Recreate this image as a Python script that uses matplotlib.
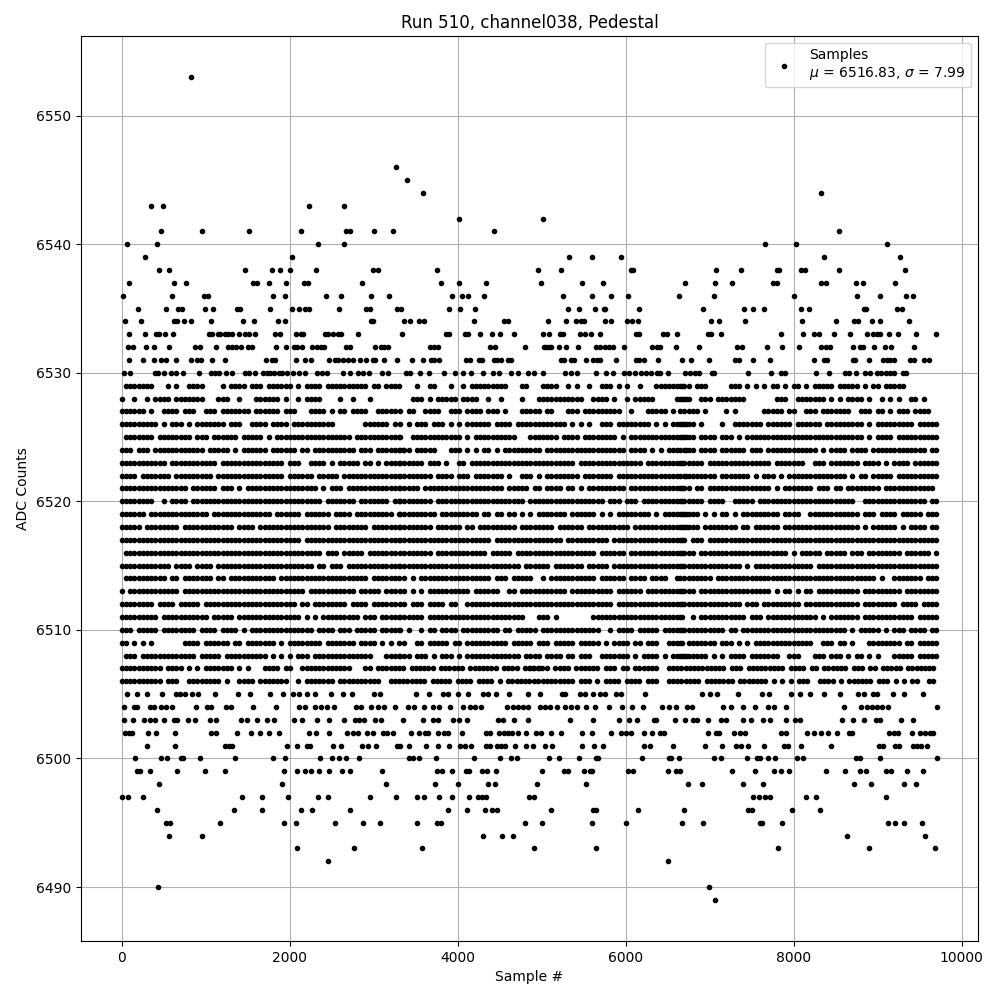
import numpy as np
import matplotlib
matplotlib.use("Agg")
import matplotlib.pyplot as plt

# sparse ADC levels: sample numbers
s6553 = [829]
s6546 = [3270]
s6545 = [3400]
s6544 = [3591, 8321]
s6543 = [353, 496, 2234, 2650]
s6542 = [4020, 5012]
s6541 = [472, 960, 1520, 2139, 2674, 2722, 3008, 3234, 4436, 8535]
s6540 = [67, 425, 2341, 2650, 7655, 8024, 9107]
s6539 = [282, 2031, 5321, 5595, 5940, 8357, 9262]
s6538 = [448, 567, 1472, 1794, 1889, 2008, 2317, 2996, 3055, 3758, 4952, 5226, 6060, 6087, 7071, 7369, 7805, 7821, 8083, 8131, 8535, 9321]
s6537 = [91, 627, 762, 1567, 1607, 1758, 1960, 2174, 2222, 2865, 3805, 4020, 4341, 4988, 5476, 5726, 6702, 7059, 7262, 7758, 7794, 8321, 8381, 8738, 8821, 9202]
s6536 = [20, 603, 984, 1032, 1805, 1948, 2436, 2615, 2972, 3186, 3936, 4055, 4127, 4317, 5250, 5595, 5821, 6024, 6631, 7048, 8000, 8750, 9024, 9333, 9417]
s6535 = [198, 532, 675, 722, 996, 1091, 1377, 1409, 1770, 2031, 2107, 2186, 2234, 2591, 2913, 2960, 3282, 3329, 3900, 4031, 4210, 5310, 5441, 5631, 5738, 5754, 6155, 6917, 7405, 7512, 7643, 8083, 8178, 8833, 8861, 9226, 9286]
s6534 = [44, 234, 623, 663, 746, 829, 1067, 1440, 1579, 1865, 1948, 2972, 2992, 3365, 3436, 3543, 3603, 4198, 4555, 4603, 5071, 5286, 5405, 5472, 5500, 5750, 5821, 6012, 6079, 6151, 7012, 7107, 7417, 8095, 8500, 8714, 8762, 8928, 9024, 9369]
s6533 = [91, 282, 413, 444, 520, 615, 1044, 1079, 1151, 1175, 1234, 1270, 1309, 1401, 1464, 1520, 1591, 1829, 1889, 2079, 2139, 2163, 2424, 2460, 2520, 2579, 2615, 2817, 3341, 3857, 3900, 4091, 4123, 4270, 4412, 4508, 4674, 5012, 5083, 5214, 5258, 5452, 5512, 5583, 5690, 6127, 6155, 6440, 6488, 6607, 6976, 7012, 7131, 7845, 8107, 8238, 8298, 8476, 8667, 8869, 8940, 8988, 9024, 9131, 9242, 9452, 9690]
s6532 = [79, 139, 294, 389, 567, 877, 936, 1127, 1270, 1317, 1365, 1424, 1508, 1555, 1841, 1960, 2056, 2091, 2151, 2270, 2329, 2377, 2413, 2674, 2722, 3020, 3091, 3127, 3175, 3675, 3722, 3770, 4389, 4448, 4805, 5024, 5048, 5083, 5107, 5202, 5286, 5429, 5643, 5690, 5750, 5798, 5845, 5976, 6310, 6369, 6405, 6595, 6869, 7321, 7381, 7678, 7857, 8059, 8321, 8381, 8429, 8702, 8786, 8821, 8952, 9083, 9155, 9429]
s6531 = [91, 258, 389, 472, 532, 651, 829, 901, 948, 1079, 1234, 1722, 1794, 1829, 2079, 2186, 2258, 2472, 2543, 2579, 2639, 2698, 2758, 2841, 2913, 2996, 3020, 3127, 3282, 3460, 3591, 3686, 3722, 3782, 4103, 4151, 4258, 4293, 4436, 4472, 4520, 4603, 4639, 5226, 5262, 5345, 5381, 5524, 5607, 5655, 5690, 5881, 6119, 6155, 6214, 6381, 6667, 6774, 6988, 7298, 7345, 7512, 7714, 8238, 8357, 8393, 8702, 8726, 8893, 9059, 9107, 9143, 9190, 9381, 9429, 9548, 9607]
s6530 = [32, 103, 401, 436, 508, 591, 651, 734, 925, 1067, 1115, 1163, 1246, 1317, 1472, 1520, 1591, 1686, 1730, 1770, 1810, 1870, 1905, 1972, 2044, 2115, 2186, 2321, 2389, 2448, 2639, 2722, 2817, 2877, 2948, 3103, 3175, 3389, 3436, 3555, 3663, 3841, 3972, 4067, 4163, 4305, 4424, 4496, 4639, 4722, 4841, 4905, 5012, 5274, 5345, 5417, 5643, 5762, 5845, 5976, 6036, 6107, 6179, 6246, 6298, 6369, 6405, 6500, 6702, 6762, 6821, 6869, 7024, 7052, 7452, 7726, 7845, 7893, 8262, 8417, 8607, 8655, 8738, 8845, 8905, 8988, 9036, 9095, 9143, 9190, 9298, 9341]
s6505 = [67, 187, 306, 484, 651, 698, 758, 833, 913, 1115, 1389, 1532, 1770, 1924, 2044, 2115, 2210, 2305, 2496, 2639, 2746, 3008, 3079, 3508, 3663, 3829, 3889, 4008, 4127, 4297, 4365, 4460, 4615, 4841, 4976, 5238, 5274, 5452, 5512, 5607, 5690, 5750, 5889, 5948, 6226, 6905, 7000, 7091, 7333, 7619, 7702, 7964, 8071, 8190, 8357, 8548, 8762, 8833, 8940, 8988, 9179, 9310, 9536]
s6504 = [32, 151, 187, 341, 389, 472, 532, 603, 889, 1020, 1067, 1246, 1305, 1567, 1841, 2115, 2186, 2305, 2377, 2448, 2532, 2794, 2853, 2972, 3055, 3127, 3258, 3413, 3484, 3603, 3710, 3782, 3912, 4067, 4151, 4210, 4282, 4591, 4663, 4722, 4782, 4841, 4976, 5036, 5095, 5179, 5274, 5345, 5417, 5524, 5631, 5798, 5952, 6071, 6202, 6429, 6512, 6595, 6726, 6786, 7155, 7250, 7393, 7536, 7690, 7762, 7905, 8595, 8798, 8869, 8928, 8988, 9044, 9119, 9700]
s6503 = [32, 139, 270, 337, 397, 508, 627, 663, 794, 877, 1056, 1127, 1424, 1496, 1615, 1734, 1817, 2056, 2151, 2329, 2472, 2651, 2782, 2829, 2889, 3020, 3091, 3353, 3591, 3710, 3770, 3940, 4020, 4107, 4484, 4543, 4674, 4841, 5333, 5607, 5917, 6036, 6131, 6333, 6357, 6583, 6702, 6798, 6845, 6976, 7131, 7190, 7393, 7496, 7631, 7714, 7905, 8012, 8071, 8571, 8702, 8833, 8976, 9024, 9274, 9417]
s6502 = [44, 91, 127, 317, 413, 639, 1067, 1127, 1377, 1544, 1651, 1758, 1877, 2234, 2317, 2472, 2686, 2758, 2817, 2924, 2996, 3115, 3163, 3234, 3448, 3543, 3615, 3651, 3770, 3841, 3889, 4055, 4341, 4389, 4496, 4555, 4603, 4651, 4722, 4817, 4929, 4988, 5107, 5226, 5476, 5595, 5821, 5940, 6000, 6060, 6214, 6310, 6405, 6452, 6976, 7071, 7107, 7286, 7357, 7417, 7845, 7905, 8155, 8238, 8321, 8405, 8512, 8655, 8690, 9131, 9190, 9238, 9405, 9500, 9560, 9619, 9655]
s6501 = [306, 639, 1234, 1282, 1317, 1972, 2091, 2210, 2246, 2520, 2615, 2865, 2936, 3032, 3282, 3317, 3424, 3627, 3770, 3900, 4031, 4091, 4163, 4341, 4389, 4472, 4520, 4567, 4686, 4817, 4893, 5036, 5119, 5476, 5619, 5726, 6214, 6286, 6560, 6940, 7143, 7310, 7369, 7452, 7643, 7881, 7928, 8083, 8440, 9012, 9059, 9202, 9250, 9417, 9464, 9512, 9583]
s6500 = [163, 472, 544, 710, 734, 936, 1353, 1805, 1948, 2365, 2508, 2591, 2674, 2829, 3424, 3472, 3543, 3746, 4198, 4508, 4639, 4710, 5087, 5206, 5440, 5643, 5667, 6190, 6512, 6536, 6631, 7048, 7139, 7440, 7560, 7595, 7690, 7774, 8036, 8107, 8738, 8786, 9024, 9707]
s6499 = [186, 222, 341, 663, 996, 1234, 1936, 2091, 2186, 2258, 2353, 2472, 2627, 2722, 3103, 3758, 3817, 3936, 4103, 4139, 4293, 4353, 4460, 5000, 5262, 5310, 5500, 5571, 5595, 6024, 6083, 6500, 6595, 6643, 7262, 7536, 7762, 7845, 7940, 8381, 8607, 8786, 8857, 9095, 9155, 9345, 9536]
s6498 = [448, 1913, 3151, 3734, 4008, 4365, 4448, 4940, 5532, 6738, 6905, 7393, 7631, 8714, 8917, 9310, 9452]
s6497 = [8, 79, 258, 1436, 1675, 1984, 2341, 2460, 2960, 3270, 3520, 3603, 3782, 3936, 4139, 4246, 4293, 4341, 4845, 4905, 7512, 7583, 7655, 7714, 8143, 8262, 9095]
s6496 = [425, 1341, 1675, 2139, 2270, 2722, 3889, 4115, 4329, 4412, 4472, 5107, 5607, 5643, 6147, 6690, 7452, 7500, 7976, 8310]
s6495 = [532, 579, 1175, 1936, 2079, 2543, 2877, 3079, 3520, 3758, 3805, 4805, 5000, 5595, 6000, 6667, 6917, 7595, 7619, 7857, 9119, 9202, 9310, 9524]
s6494 = [567, 960, 4305, 4532, 4663, 8631, 9559]
s6493 = [2091, 2770, 3579, 4905, 5643, 7809, 8893, 9679]
s6492 = [2460, 6500]
s6490 = [436, 6988]
s6489 = [7059]

sparse_levels = [6553, 6546, 6545, 6544, 6543, 6542, 6541, 6540, 6539, 6538, 6537, 6536, 6535, 6534, 6533, 6532, 6531, 6530,
                 6505, 6504, 6503, 6502, 6501, 6500, 6499, 6498, 6497, 6496, 6495, 6494, 6493, 6492, 6490, 6489]
sparse_samples = [s6553, s6546, s6545, s6544, s6543, s6542, s6541, s6540, s6539, s6538, s6537, s6536, s6535, s6534, s6533, s6532, s6531, s6530,
                  s6505, s6504, s6503, s6502, s6501, s6500, s6499, s6498, s6497, s6496, s6495, s6494, s6493, s6492, s6490, s6489]

# dense levels are too crowded to list dot by dot, so each one is read as
# 50-sample cells, # = a dot there. three strips, left to right
dense_levels = list(range(6529, 6507, -1))
strip_a = [
    ".#######...#.#..####....#.####.###.######.#.####.##########.##.####",
    "#..#..#.####.#######...###..#...######.#..#.####....#..#...#",
    "######.#..####.###..###.#######.######.###...####.#.##.####..#####",
    "#########.#.###.#.#######.###..####.####.##########.......######.#",
    ".#######.########.###.######.#####.#.##################.###########",
    "###.###.############.#####.#.######.######.##.##########.###.#######",
    "###########.###########.###############.###..####.#.#####.##.#.####",
    "####.#######.#########.################.######.#####.##############",
    "################.######.###.#.#################.#.###.#############",
    "########..#.####.###############################.#######.#######.##",
    "######.##############.##############.######.######.####.#########.#",
    "#####.########.############.####.#################.########.#######",
    "###########################################.#######################",
    ".###############################################.###.#####.#######.",
    "############.####.####.#######################.##.###.#############",
    ".##########.##.#######.##.###########.#####################.#######",
    "#.############.#############################.###########.#####.###",
    "########.####.#####.######################.##.########.####.######",
    "#########.###########.#####.###############.#.#.#########.###.#####",
    "###.#####.########.####.####.#.###############.####.###.#####.#####",
    "##.#.#.#.......####.######.##.#######.#.########.#######.####.#.#.#",
    ".###.#############.#####.##########.#.#.#.###.##############...####",
]
strip_b = [
    "....#..##...#..#.#########...##...####..#.#..#..###.#.#..#...#######",
    "...###.#.#####.####..#..#....#...###########..####.#..#.#####.....###",
    "#.##..####..###.####.###.#...#####.##...###.#########..#...#####.#",
    "#.#.###.###.#.#.######.####.############.#.#.#..###.########.#.#.####",
    "#..############.#.##########...#######.####.########.#.##############",
    "###.#####...###.#.#.##.#.#########.###################.####.#.#.###.#",
    "######.###.#..##.#########################.###############.#########",
    "########.####.###.#######.#..###.#.########.#######.###############.#",
    "#####.###################.#####.##.####.##.#.#########.#############",
    "########.#####################.##################.###.###.##########",
    "#########.#########.##.##.##.#.#.#######.######.#.#.########.#.######",
    "########.######.##.#########.########.######.##########.#############",
    "######################.################.##########.#################",
    "########.############.#####.###################.######.#############",
    "#############################.######.#######.#####.#################",
    ".#.#.#################.###.#####..#.###########.######.####.####..#.",
    "##.#.#.##########.######..##.###########.##########.######.#########",
    "##.###.####.##..###################################.################",
    "######.#######################...###.#........######################",
    "#.#..#.##.####.#########.##.#####.##############..#.####.#####.#####",
    ".#..##.#####.##.##########.#####.###.#####.#####.#.####.##.###..####",
    "###.###.#.###.#.#############.####.####.##.###..#######.#.####.#.####",
]
strip_c = [
    "###.###.....###.#.#.#.##.#.##.#.#####.#####.#.##.#####",
    "###..###.#######.......###..#######.#.#.####.#..#.#.#..##.#",
    "#####.#....#.#......#####.##..###.#######..###.##.#.###.####..###",
    "####.#....#..#######.######.######.#########.#.#########.######",
    "####.####.###.#.############################.#.####.##########",
    "####.####.######.###.############.#.####.####.#############.###",
    "######.###############.#######..###.#######.####.#.####.#######.##",
    "#########.#######.#.###.#.##############.#.##.#####.###########.##",
    "###.##.###############.#.#######.###.##.########.############",
    "######.####..#####.#######################..###############.###",
    "#####.#.#.##.#.#########.####..############.###.####.#####.#####",
    "#####.########.##.######.##################.#.######.#.####.###",
    "##.###.########################################################",
    "####.#####################.#.#####.#####.###.########.######.##",
    "###############.#.##############.##############################",
    "########.######################################.#..#######.####",
    "####.#################.#.##.#.##.##########.#########.#########",
    "###############.###.#########.#############.########.####.######",
    "#..#.###########.###.############.#.#######.############.#####",
    "###########.##.#########################.#.#####.#.###.####.###",
    "#.#######.###.#.#.##############..###.##.#...########.##.######",
    "#######.#.#.####.#######..###...###.###.#.##.#.#...#####.#######",
]
strip_starts = [0, 3314, 6648]

# 6507 and 6506 came from the lower crops, which split in two strips
low_levels = [6507, 6506]
low_left = [
    "##########.####.#.#.#######.#.#...####.##..############...##.#######.######.######.#######.####.#####",
    "##########.###..########.#..####.#######..#.#######.##########..#########.#####.####.####.#.######.#",
]
low_right = [
    "###.#.####.######.###.##.######..##############.###.#########.####.##.######.###.##.#####.########",
    ".#.########.###.#.####.####.###..########.#######.#######.#.#.#.###..####.#.######.###.#.#.##..######",
]
low_starts = [0, 4862]

CELL = 50


def cells_to_samples(cells, start):
    return [start + i * CELL for i, c in enumerate(cells) if c == "#"]


xs = []
ys = []
for level, samples in zip(sparse_levels, sparse_samples):
    xs += samples
    ys += [level] * len(samples)
for j, level in enumerate(dense_levels):
    for strip, start in zip([strip_a, strip_b, strip_c], strip_starts):
        row = cells_to_samples(strip[j], start)
        xs += row
        ys += [level] * len(row)
for j, level in enumerate(low_levels):
    for strip, start in zip([low_left, low_right], low_starts):
        row = cells_to_samples(strip[j], start)
        xs += row
        ys += [level] * len(row)

xs = np.array(xs)
ys = np.array(ys)
keep = xs <= 9707
xs = xs[keep]
ys = ys[keep]

fig, ax = plt.subplots(figsize=(10, 10))
ax.plot(xs, ys, "k.", label="Samples\n$\\mu$ = 6516.83, $\\sigma$ = 7.99")
ax.set_title("Run 510, channel038, Pedestal")
ax.set_xlabel("Sample #")
ax.set_ylabel("ADC Counts")
ax.grid(True)
ax.legend(loc="upper right")
fig.subplots_adjust(left=0.081, right=0.978, top=0.964, bottom=0.059)
fig.savefig("out.png", dpi=100)
